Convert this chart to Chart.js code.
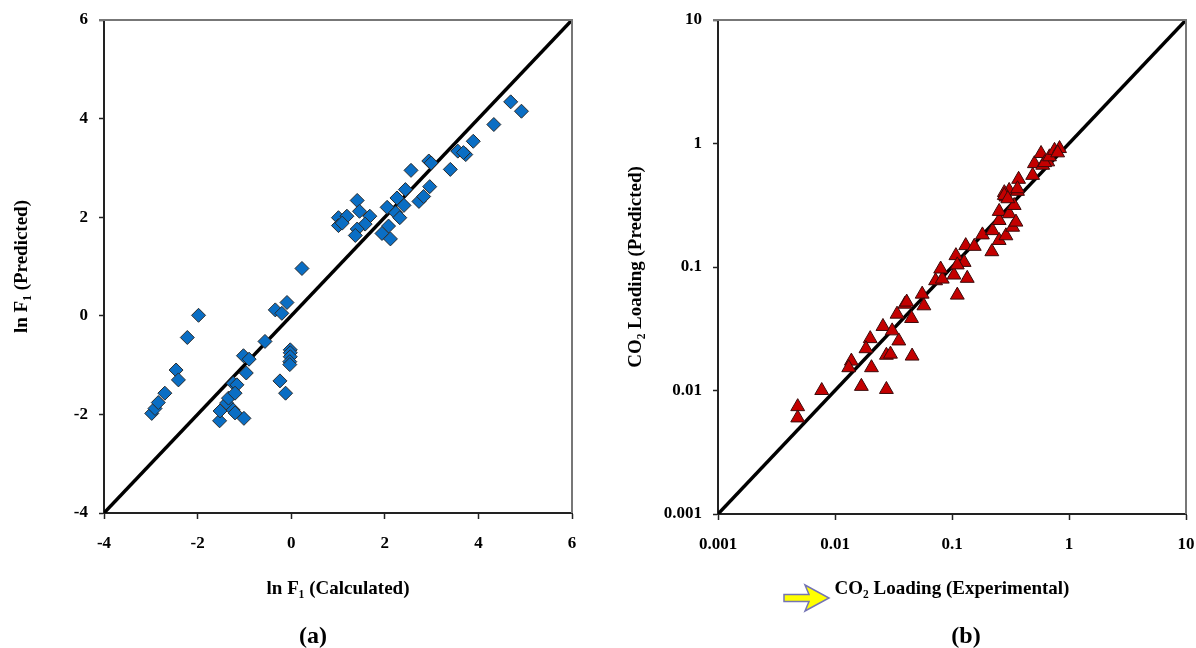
<!DOCTYPE html>
<html lang="en">
<head>
<meta charset="UTF-8">
<title>Parity plots: ln F1 and CO2 loading</title>
<script src="https://cdn.jsdelivr.net/npm/chart.js"></script>
<style>
  body { margin: 0; width: 1196px; height: 648px; background: #fff; position: relative; overflow: hidden; }
  .panel { position: absolute; top: 0; width: 598px; height: 648px; }
  .tag { position: absolute; top: 620px; width: 100px; text-align: center; line-height: 30px;
         font-family: "Liberation Serif", "Times New Roman", serif; font-weight: bold; font-size: 24px; color: #000; }
</style>
</head>
<body>
<div class="panel" style="left:0"><canvas id="chartA" width="598" height="648"></canvas></div>
<div class="panel" style="left:598px"><canvas id="chartB" width="598" height="648"></canvas></div>
<div class="tag" style="left:263px">(a)</div>
<div class="tag" style="left:916px">(b)</div>
<script>
// (a) ln F1: calculated vs predicted
const calcA = [-2.98,-2.91,-2.84,-2.70,-2.46,-2.41,-2.22,-1.98,-1.53,-1.52,-1.38,-1.34,-1.24,-1.16,-1.20,-1.24,-1.20,-1.01,-1.02,-0.90,-0.96,-0.56,-0.34,-0.20,-0.09,-0.24,-0.12,-0.02,-0.02,-0.02,-0.03,-0.03,0.23,1.01,1.01,1.19,1.09,1.41,1.46,1.68,1.58,1.41,1.37,2.05,2.23,2.32,2.08,1.94,2.12,2.26,2.41,2.44,2.56,2.73,2.83,2.96,2.94,2.99,3.40,3.56,3.73,3.68,3.89,4.33,4.69,4.92];
const predA = [-1.98,-1.88,-1.76,-1.57,-1.10,-1.30,-0.44,0.01,-2.13,-1.93,-1.77,-1.67,-1.37,-1.40,-1.57,-1.91,-1.97,-2.08,-0.81,-0.88,-1.16,-0.52,0.12,0.05,0.27,-1.32,-1.57,-0.69,-0.75,-0.83,-0.93,-0.99,0.96,1.99,1.83,2.02,1.88,2.34,2.12,2.02,1.86,1.76,1.63,2.20,2.09,1.99,1.82,1.67,1.56,2.39,2.24,2.56,2.95,2.32,2.42,2.62,3.14,3.10,2.97,3.34,3.27,3.31,3.54,3.88,4.34,4.15];
const parityA = [-4, 6];
const ticksA = [-4, -2, 0, 2, 4, 6];

// (b) CO2 loading: experimental vs predicted
const expB = [0.0048,0.0048,0.0077,0.0138,0.0131,0.0168,0.0205,0.0200,0.0184,0.0257,0.0308,0.0351,0.0275,0.0298,0.0275,0.0456,0.0339,0.0396,0.0451,0.041,0.0556,0.0575,0.111,0.0724,0.0826,0.080,0.104,0.135,0.108,0.127,0.111,0.131,0.155,0.182,0.219,0.222,0.253,0.289,0.253,0.253,0.308,0.330,0.352,0.340,0.289,0.308,0.363,0.371,0.280,0.489,0.506,0.596,0.658,0.577,0.62,0.681,0.752,0.83,0.80,0.363,0.28,0.30];
const predB = [0.0074,0.0060,0.0100,0.0173,0.0153,0.0108,0.0153,0.0263,0.0218,0.0330,0.0304,0.0252,0.0193,0.0197,0.0102,0.0190,0.0415,0.0500,0.0383,0.052,0.0603,0.0485,0.0592,0.0774,0.0798,0.0963,0.0861,0.081,0.1236,0.109,0.104,0.149,0.147,0.182,0.133,0.197,0.164,0.179,0.238,0.282,0.270,0.210,0.231,0.315,0.369,0.417,0.410,0.513,0.400,0.552,0.687,0.667,0.710,0.83,0.70,0.78,0.88,0.91,0.84,0.43,0.38,0.357];
const parityB = [0.001, 10];
const ticksB = [0.001, 0.01, 0.1, 1, 10];

const serif = '"Liberation Serif", "Times New Roman", serif';
const tickFont = { family: serif, weight: 'bold', size: 17 };
const titleFont = { family: serif, weight: 'bold', size: 19 };

// gray top/right frame like the original plot box
const frame = {
    id: 'frame',
    afterDraw(chart) {
        const a = chart.chartArea, ctx = chart.ctx;
        ctx.save();
        ctx.strokeStyle = '#777';
        ctx.lineWidth = 2;
        ctx.beginPath();
        ctx.moveTo(a.left - 5, a.top);
        ctx.lineTo(a.right, a.top);
        ctx.lineTo(a.right, a.bottom);
        ctx.stroke();
        ctx.restore();
    }
};

// yellow arrow in front of the (b) x title
const arrow = {
    id: 'arrow',
    afterDraw(chart) {
        const ctx = chart.ctx;
        const pts = [[186,594.5],[211,594.5],[207,585],[231,598],[207,611],[211,601.5],[186,601.5]];
        ctx.save();
        ctx.beginPath();
        pts.forEach((p, i) => i ? ctx.lineTo(p[0], p[1]) : ctx.moveTo(p[0], p[1]));
        ctx.closePath();
        ctx.fillStyle = '#ffff00';
        ctx.fill();
        ctx.strokeStyle = '#7474b4';
        ctx.lineWidth = 1.5;
        ctx.stroke();
        ctx.restore();
    }
};

function axis(opts) {
    return Object.assign({
        ticks: { color: '#000', font: tickFont, maxRotation: 0, autoSkip: false },
        grid: { drawOnChartArea: false, drawTicks: true, tickColor: '#222', tickWidth: 1.5 },
        border: { color: '#222', width: 2 }
    }, opts);
}

function makeChart(id, xs, ys, line, pointOpts, scales, pad, plugins) {
    return new Chart(document.getElementById(id), {
        type: 'scatter',
        data: {
            datasets: [
                Object.assign({ data: xs.map((x, i) => ({ x: x, y: ys[i] })), order: 1, borderWidth: 1 }, pointOpts),
                { data: line.map(v => ({ x: v, y: v })), showLine: true, borderColor: '#000', borderWidth: 3.5, pointRadius: 0, order: 2 }
            ]
        },
        options: {
            responsive: false,
            animation: false,
            layout: { padding: pad },
            plugins: { legend: { display: false }, tooltip: { enabled: false } },
            scales: scales
        },
        plugins: plugins
    });
}

function fixTicks(list) {
    return s => { s.ticks = list.map(v => ({ value: v })); };
}

makeChart('chartA', calcA, predA, parityA,
    { pointStyle: 'rectRot', pointRadius: 7, backgroundColor: '#0a6ec4', borderColor: '#2a2a2a' },
    {
        x: axis({
            type: 'linear', min: -4, max: 6,
            afterBuildTicks: fixTicks(ticksA),
            ticks: { color: '#000', font: tickFont, padding: 14, maxRotation: 0, autoSkip: false },
            grid: { drawOnChartArea: false, tickLength: 6, tickColor: '#222', tickWidth: 1.5 },
            title: { display: true, text: 'ln F\u2081 (Calculated)', color: '#000', font: titleFont, padding: { top: 0, bottom: 48 } },
            afterFit(s) { s.height = 135; s.paddingLeft = 0; s.paddingRight = 0; }
        }),
        y: axis({
            type: 'linear', min: -4, max: 6,
            afterBuildTicks: fixTicks(ticksA),
            ticks: { color: '#000', font: tickFont, padding: 11 },
            grid: { drawOnChartArea: false, tickLength: 5, tickColor: '#222', tickWidth: 1.5 },
            title: { display: true, text: 'ln F\u2081 (Predicted)', color: '#000', font: titleFont, padding: { top: 11, bottom: 0 } },
            afterFit(s) { s.width = 104; s.paddingTop = 0; s.paddingBottom = 0; }
        })
    },
    { left: 0, top: 20, right: 26, bottom: 0 }, [frame]);

makeChart('chartB', expB, predB, parityB,
    { pointStyle: 'triangle', pointRadius: 8, backgroundColor: '#c40000', borderColor: '#3a0a0a' },
    {
        x: axis({
            type: 'logarithmic', min: 0.001, max: 10,
            afterBuildTicks: fixTicks(ticksB),
            ticks: { color: '#000', font: tickFont, padding: 14, maxRotation: 0, autoSkip: false, callback: v => String(v) },
            grid: { drawOnChartArea: false, tickLength: 6, tickColor: '#222', tickWidth: 1.5 },
            title: { display: true, text: 'CO\u2082 Loading (Experimental)', color: '#000', font: titleFont, padding: { top: 0, bottom: 48 } },
            afterFit(s) { s.height = 134; s.paddingLeft = 0; s.paddingRight = 0; }
        }),
        y: axis({
            type: 'logarithmic', min: 0.001, max: 10,
            afterBuildTicks: fixTicks(ticksB),
            ticks: { color: '#000', font: tickFont, padding: 11, callback: v => String(v) },
            grid: { drawOnChartArea: false, tickLength: 5, tickColor: '#222', tickWidth: 1.5 },
            title: { display: true, text: 'CO\u2082 Loading (Predicted)', color: '#000', font: titleFont, padding: { top: 27, bottom: 0 } },
            afterFit(s) { s.width = 120; s.paddingTop = 0; s.paddingBottom = 0; }
        })
    },
    { left: 0, top: 20, right: 10, bottom: 0 }, [frame, arrow]);
</script>
</body>
</html>
